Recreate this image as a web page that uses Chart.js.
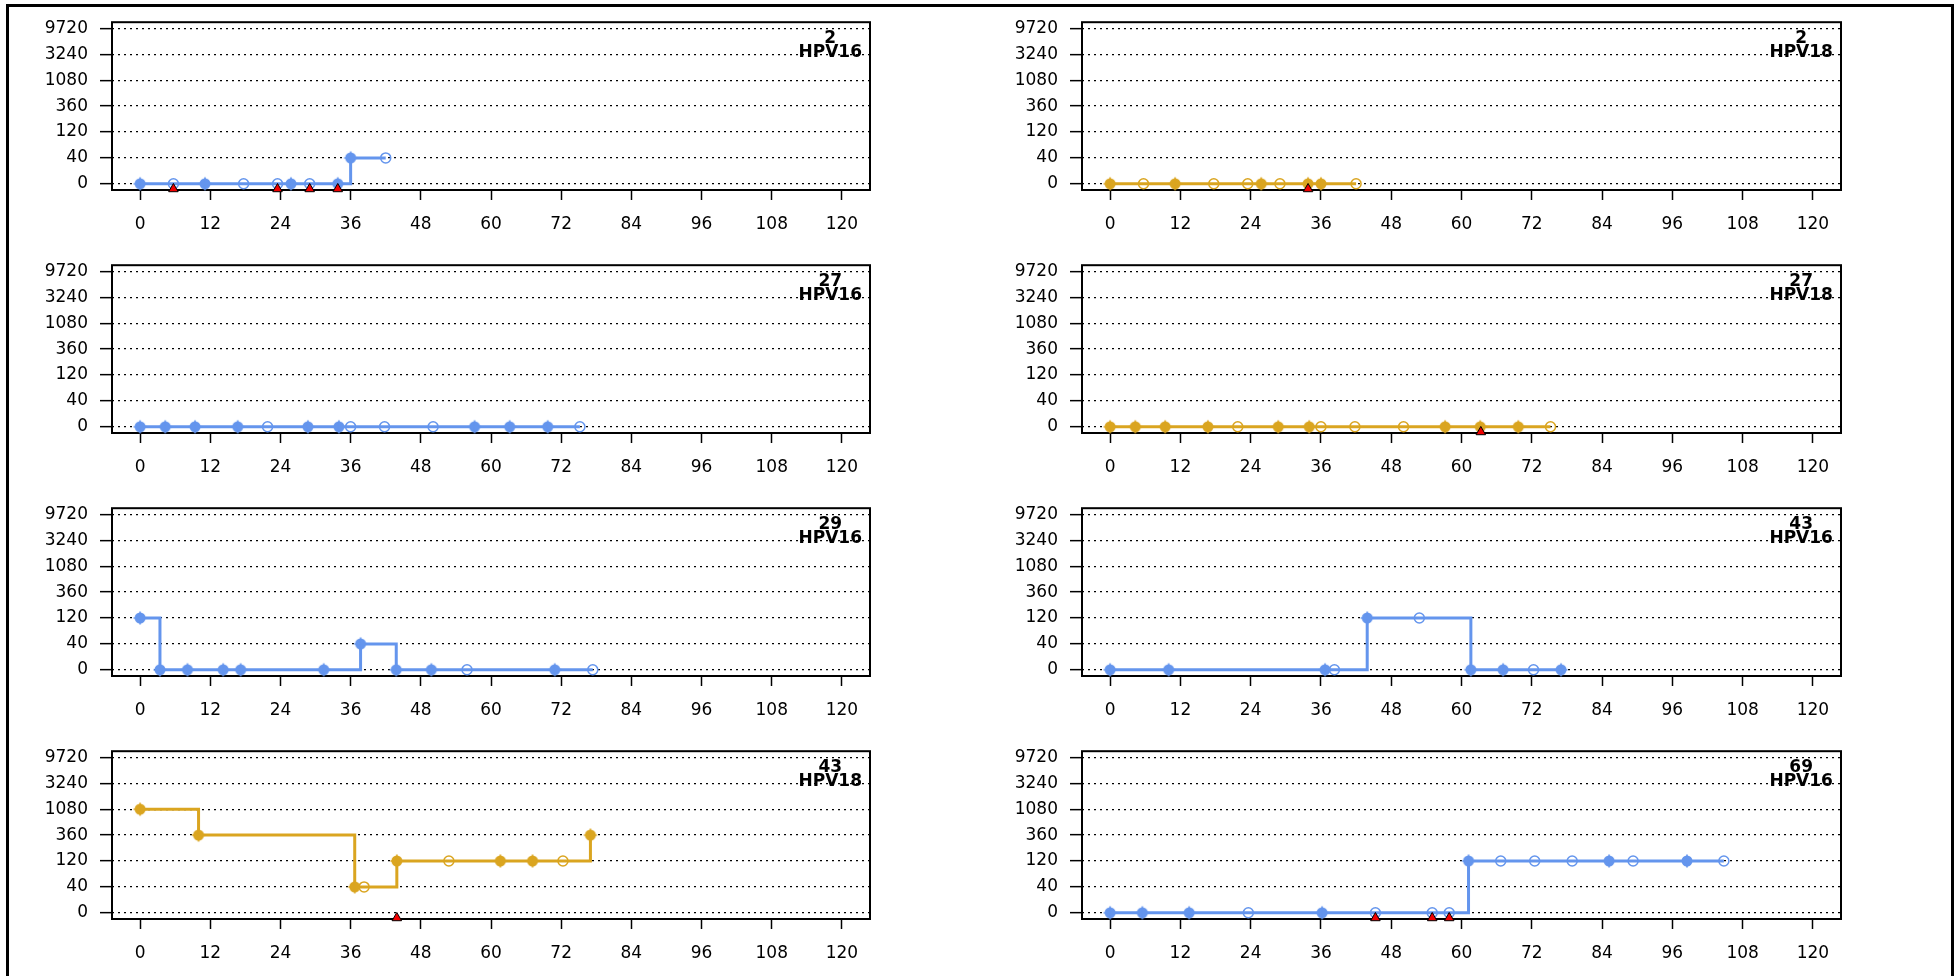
<!DOCTYPE html>
<html>
<head>
<meta charset="utf-8">
<script src="https://cdn.jsdelivr.net/npm/chart.js@4.4.1/dist/chart.umd.min.js"></script>
<style>
  html, body { margin: 0; padding: 0; background: #fff; }
  body { width: 1959px; height: 976px; position: relative; overflow: hidden; }
  canvas { position: absolute; }
  #frame { position: absolute; left: 6px; top: 4px; width: 1942px; height: 1000px; border: 3px solid #000; pointer-events: none; }
</style>
</head>
<body>
<div id="frame"></div>
<script>
// axis levels
const xTicks = [0, 12, 24, 36, 48, 60, 72, 84, 96, 108, 120];
const yLevels = [0, 40, 120, 360, 1080, 3240, 9720];

// subject 2
const months2 = [0, 5.7, 11.1, 17.7, 23.5, 25.8, 29, 33.8, 36, 42];
const filled2 = [1, 0, 1, 0, 0, 1, 0, 1, 1, 0];
const hpv16_2 = [0, 0, 0, 0, 0, 0, 0, 0, 40, 40];
const hpv18_2 = [0, 0, 0, 0, 0, 0, 0, 0, 0, 0];
const flags16_2 = [5.7, 23.5, 29, 33.8];
const flags18_2 = [33.8];

// subject 27
const months27 = [0, 4.3, 9.4, 16.7, 21.8, 28.7, 34, 36, 41.8, 50.1, 57.2, 63.2, 69.7, 75.2];
const filled27 = [1, 1, 1, 1, 0, 1, 1, 0, 0, 0, 1, 1, 1, 0];
const hpv16_27 = [0, 0, 0, 0, 0, 0, 0, 0, 0, 0, 0, 0, 0, 0];
const hpv18_27 = [0, 0, 0, 0, 0, 0, 0, 0, 0, 0, 0, 0, 0, 0];
const flags16_27 = [];
const flags18_27 = [63.3];

// subject 29
const months29 = [0, 3.4, 8.1, 14.2, 17.2, 31.4, 37.7, 43.8, 49.8, 55.9, 70.9, 77.4];
const filled29 = [1, 1, 1, 1, 1, 1, 1, 1, 1, 0, 1, 0];
const hpv16_29 = [120, 0, 0, 0, 0, 0, 40, 0, 0, 0, 0, 0];
const flags16_29 = [];

// subject 43
const months43 = [0, 10, 36.7, 38.3, 43.9, 52.8, 61.6, 67.1, 72.3, 77];
const filled43 = [1, 1, 1, 0, 1, 0, 1, 1, 0, 1];
const hpv16_43 = [0, 0, 0, 0, 120, 120, 0, 0, 0, 0];
const hpv18_43 = [1080, 360, 40, 40, 120, 120, 120, 120, 120, 360];
const flags16_43 = [];
const flags18_43 = [43.9];

// subject 69
const months69 = [0, 5.5, 13.5, 23.6, 36.2, 45.3, 55, 57.9, 61.2, 66.7, 72.5, 78.9, 85.2, 89.3, 98.5, 104.8];
const filled69 = [1, 1, 1, 0, 1, 0, 0, 0, 1, 0, 0, 0, 1, 0, 1, 0];
const hpv16_69 = [0, 0, 0, 0, 0, 0, 0, 0, 120, 120, 120, 120, 120, 120, 120, 120];
const flags16_69 = [45.3, 55, 57.9];

const BLUE = '#6495ED';
const GOLD = '#DAA520';

// left, right for each row
const panels = [
  { subject: '2', type: 'HPV16', months: months2, values: hpv16_2, filled: filled2, flags: flags16_2, color: BLUE },
  { subject: '2', type: 'HPV18', months: months2, values: hpv18_2, filled: filled2, flags: flags18_2, color: GOLD },
  { subject: '27', type: 'HPV16', months: months27, values: hpv16_27, filled: filled27, flags: flags16_27, color: BLUE },
  { subject: '27', type: 'HPV18', months: months27, values: hpv18_27, filled: filled27, flags: flags18_27, color: GOLD },
  { subject: '29', type: 'HPV16', months: months29, values: hpv16_29, filled: filled29, flags: flags16_29, color: BLUE },
  { subject: '43', type: 'HPV16', months: months43, values: hpv16_43, filled: filled43, flags: flags16_43, color: BLUE },
  { subject: '43', type: 'HPV18', months: months43, values: hpv18_43, filled: filled43, flags: flags18_43, color: GOLD },
  { subject: '69', type: 'HPV16', months: months69, values: hpv16_69, filled: filled69, flags: flags16_69, color: BLUE },
];

// where the markers/labels sit, in scale units
const flagLevel = -0.2;
const labelX = 118;
const subjectLevel = 5.6;
const typeLevel = 5.07;

Chart.defaults.font.family = '"DejaVu Sans", sans-serif';
Chart.defaults.font.size = 17;
Chart.defaults.color = '#000';

// filled dot with a small cross through it
function filledMarker(color) {
  const c = document.createElement('canvas');
  c.width = 16;
  c.height = 16;
  const g = c.getContext('2d');
  g.fillStyle = color;
  g.beginPath();
  g.arc(8, 8, 5.5, 0, Math.PI * 2);
  g.fill();
  g.strokeStyle = color;
  g.lineWidth = 1.6;
  g.beginPath();
  g.moveTo(8, 1.5); g.lineTo(8, 14.5);
  g.moveTo(1.5, 8); g.lineTo(14.5, 8);
  g.stroke();
  return c;
}
const markers = { [BLUE]: filledMarker(BLUE), [GOLD]: filledMarker(GOLD) };

const panelBox = {
  id: 'panelBox',
  beforeDatasetsDraw(chart, args, opts) {
    const { ctx, chartArea: a, scales } = chart;
    ctx.save();
    ctx.strokeStyle = '#000';
    ctx.lineWidth = 2;
    ctx.strokeRect(a.left, a.top, a.right - a.left, a.bottom - a.top);
    ctx.font = 'bold 17px "DejaVu Sans"';
    ctx.textAlign = 'center';
    ctx.textBaseline = 'middle';
    ctx.fillStyle = '#000';
    const x = scales.x.getPixelForValue(labelX);
    ctx.fillText(opts.subject, x, scales.y.getPixelForValue(subjectLevel));
    ctx.fillText(opts.type, x, scales.y.getPixelForValue(typeLevel));
    ctx.restore();
  }
};

const ROW_H = 243;

panels.forEach((p, i) => {
  const row = Math.floor(i / 2);
  const right = i % 2 === 1;
  const canvas = document.createElement('canvas');
  canvas.width = right ? 984 : 975;
  canvas.height = ROW_H;
  canvas.style.left = (right ? 975 : 0) + 'px';
  canvas.style.top = (row * ROW_H) + 'px';
  document.body.appendChild(canvas);

  const yWidth = right ? 107 : 112;
  const padRight = right ? 118 : 105;

  const lineData = p.months.map((m, k) => ({ x: m, y: yLevels.indexOf(p.values[k]) }));
  const flagData = p.flags.map(m => ({ x: m, y: flagLevel }));

  new Chart(canvas, {
    type: 'line',
    data: {
      datasets: [
        {
          data: flagData,
          showLine: false,
          pointStyle: 'triangle',
          pointRadius: 5.5,
          pointBackgroundColor: '#f00000',
          pointBorderColor: '#000',
          pointBorderWidth: 1,
          clip: false
        },
        {
          data: lineData,
          borderColor: p.color,
          borderWidth: 3,
          stepped: true,
          pointStyle: p.filled.map(f => f ? markers[p.color] : 'circle'),
          pointRadius: 5,
          pointBackgroundColor: 'rgba(0,0,0,0)',
          pointBorderColor: p.color,
          pointBorderWidth: 1.5,
          clip: false
        }
      ]
    },
    options: {
      responsive: false,
      animation: false,
      events: [],
      layout: { padding: { left: 0, top: 10, right: padRight, bottom: 0 } },
      plugins: {
        legend: { display: false },
        tooltip: { enabled: false },
        panelBox: { subject: p.subject, type: p.type }
      },
      scales: {
        x: {
          type: 'linear',
          min: -4.8,
          max: 124.8,
          afterBuildTicks: s => { s.ticks = xTicks.map(v => ({ value: v })); },
          afterFit: s => { s.height = 53; },
          grid: { drawOnChartArea: false, drawTicks: true, tickLength: 10, tickColor: '#000', tickWidth: 1.5 },
          border: { display: false },
          ticks: { padding: 14, maxRotation: 0, autoSkip: false }
        },
        y: {
          type: 'linear',
          min: -0.24,
          max: 6.24,
          afterBuildTicks: s => { s.ticks = yLevels.map((v, k) => ({ value: k })); },
          afterFit: s => { s.width = yWidth; },
          grid: { color: '#000', lineWidth: 1.3, tickLength: 12, tickColor: '#000', tickWidth: 1.5, tickBorderDash: [] },
          border: { display: false, dash: [2, 4] },
          ticks: { padding: 12, callback: v => String(yLevels[v]) }
        }
      }
    },
    plugins: [panelBox]
  });
});
</script>
</body>
</html>
